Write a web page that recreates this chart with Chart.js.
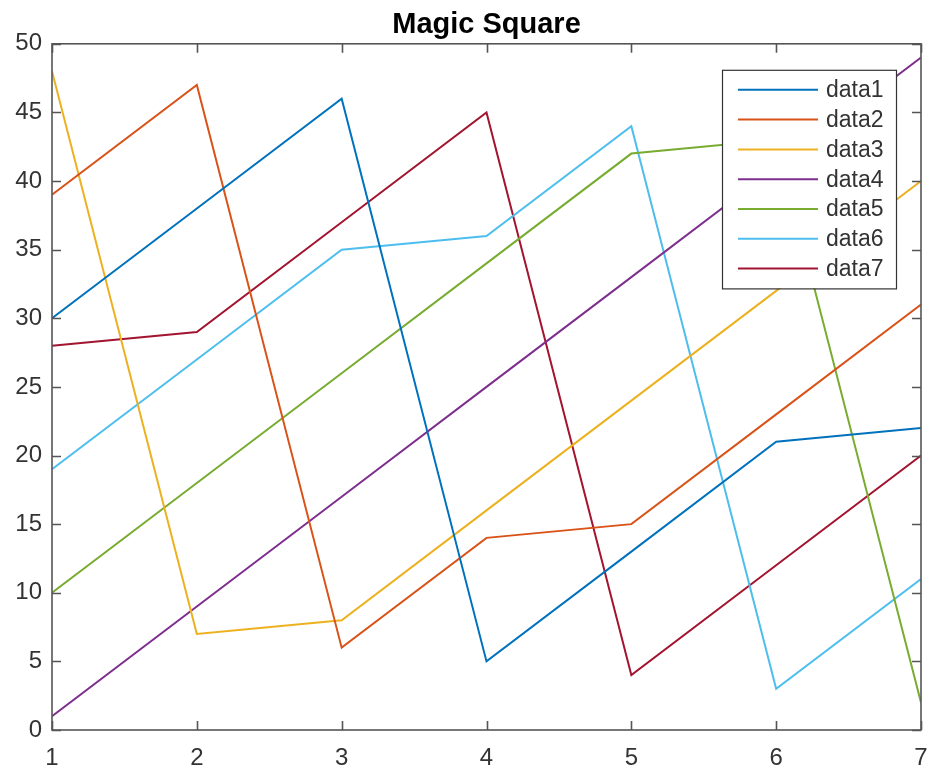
<!DOCTYPE html>
<html>
<head>
<meta charset="utf-8">
<script src="https://cdn.jsdelivr.net/npm/chart.js@4"></script>
<style>
  body { margin: 0; background: #fff; }
  #wrap { width: 932px; height: 772px; }
</style>
</head>
<body>
<div id="wrap"><canvas id="magicChart" width="932" height="772"></canvas></div>
<script>
// magic(7), one array per column
const xValues = [1, 2, 3, 4, 5, 6, 7];
const data1 = [30, 38, 46, 5, 13, 21, 22];
const data2 = [39, 47, 6, 14, 15, 23, 31];
const data3 = [48, 7, 8, 16, 24, 32, 40];
const data4 = [1, 9, 17, 25, 33, 41, 49];
const data5 = [10, 18, 26, 34, 42, 43, 2];
const data6 = [19, 27, 35, 36, 44, 3, 11];
const data7 = [28, 29, 37, 45, 4, 12, 20];
const seriesNames = ['data1', 'data2', 'data3', 'data4', 'data5', 'data6', 'data7'];
const seriesValues = [data1, data2, data3, data4, data5, data6, data7];
const seriesColors = ['#0072BD', '#D95319', '#EDB120', '#7E2F8E', '#77AC30', '#4DBEEE', '#A2142F'];

const fontFamily = '"Liberation Sans", Arial, Helvetica, sans-serif';
const axisColor = '#555555';

// box around the axes plus MATLAB style inward ticks
const axesBox = {
    id: 'axesBox',
    afterDatasetsDraw(chart) {
        const { ctx, chartArea: a, scales } = chart;
        const len = 9;
        ctx.save();
        ctx.strokeStyle = axisColor;
        ctx.lineWidth = 1.6;
        ctx.beginPath();
        scales.x.ticks.forEach(t => {
            const px = Math.round(scales.x.getPixelForValue(t.value)) + 0.5;
            ctx.moveTo(px, a.bottom); ctx.lineTo(px, a.bottom - len);
            ctx.moveTo(px, a.top); ctx.lineTo(px, a.top + len);
        });
        scales.y.ticks.forEach(t => {
            const py = Math.round(scales.y.getPixelForValue(t.value)) + 0.5;
            ctx.moveTo(a.left, py); ctx.lineTo(a.left + len, py);
            ctx.moveTo(a.right, py); ctx.lineTo(a.right - len, py);
        });
        ctx.stroke();
        ctx.strokeRect(a.left, a.top, a.right - a.left, a.bottom - a.top);
        ctx.restore();
    }
};

// legend box inside the top right corner
const boxLegend = {
    id: 'boxLegend',
    afterDraw(chart) {
        const { ctx, chartArea: a } = chart;
        const w = 174, rowH = 29.8;
        const x0 = a.right - 25 - w, y0 = a.top + 26;
        const h = rowH * chart.data.datasets.length + 10;
        ctx.save();
        ctx.fillStyle = '#fff';
        ctx.fillRect(x0, y0, w, h);
        ctx.strokeStyle = '#333';
        ctx.lineWidth = 1.2;
        ctx.strokeRect(x0 + 0.5, y0 + 0.5, w, h);
        ctx.font = '23px ' + fontFamily;
        ctx.textBaseline = 'middle';
        chart.data.datasets.forEach((ds, i) => {
            const cy = y0 + 20 + i * rowH;
            ctx.strokeStyle = ds.borderColor;
            ctx.lineWidth = 2;
            ctx.beginPath();
            ctx.moveTo(x0 + 16, cy);
            ctx.lineTo(x0 + 96, cy);
            ctx.stroke();
            ctx.fillStyle = '#333';
            ctx.fillText(ds.label, x0 + 104, cy + 1);
        });
        ctx.restore();
    }
};

function initChart() {
    const ctx = document.getElementById('magicChart').getContext('2d');
    new Chart(ctx, {
        type: 'line',
        data: {
            datasets: seriesValues.map((vals, i) => ({
                label: seriesNames[i],
                data: vals.map((v, j) => ({ x: xValues[j], y: v })),
                borderColor: seriesColors[i],
                backgroundColor: seriesColors[i],
                borderWidth: 2,
                pointRadius: 0,
                tension: 0,
                fill: false
            }))
        },
        options: {
            responsive: false,
            animation: false,
            layout: { padding: { left: 0, right: 11, top: 0, bottom: 0 } },
            plugins: {
                legend: { display: false },
                tooltip: { enabled: false },
                title: {
                    display: true,
                    fullSize: false,
                    text: 'Magic Square',
                    color: '#000',
                    font: { family: fontFamily, size: 29, weight: 'bold' },
                    padding: { top: 8, bottom: 1 }
                }
            },
            scales: {
                x: {
                    type: 'linear',
                    min: 1,
                    max: 7,
                    ticks: {
                        stepSize: 1,
                        color: '#333',
                        font: { family: fontFamily, size: 24 },
                        padding: 14,
                        maxRotation: 0
                    },
                    grid: { display: false, drawTicks: false },
                    border: { display: false },
                    afterFit(scale) {
                        scale.height = 42;
                        scale.paddingLeft = 0;
                        scale.paddingRight = 0;
                    }
                },
                y: {
                    min: 0,
                    max: 50,
                    ticks: {
                        stepSize: 5,
                        color: '#333',
                        font: { family: fontFamily, size: 24 },
                        padding: 10
                    },
                    grid: { display: false, drawTicks: false },
                    border: { display: false },
                    afterFit(scale) {
                        scale.width = 52;
                        scale.paddingTop = 0;
                        scale.paddingBottom = 0;
                    }
                }
            }
        },
        plugins: [axesBox, boxLegend]
    });
}

initChart();
</script>
</body>
</html>
